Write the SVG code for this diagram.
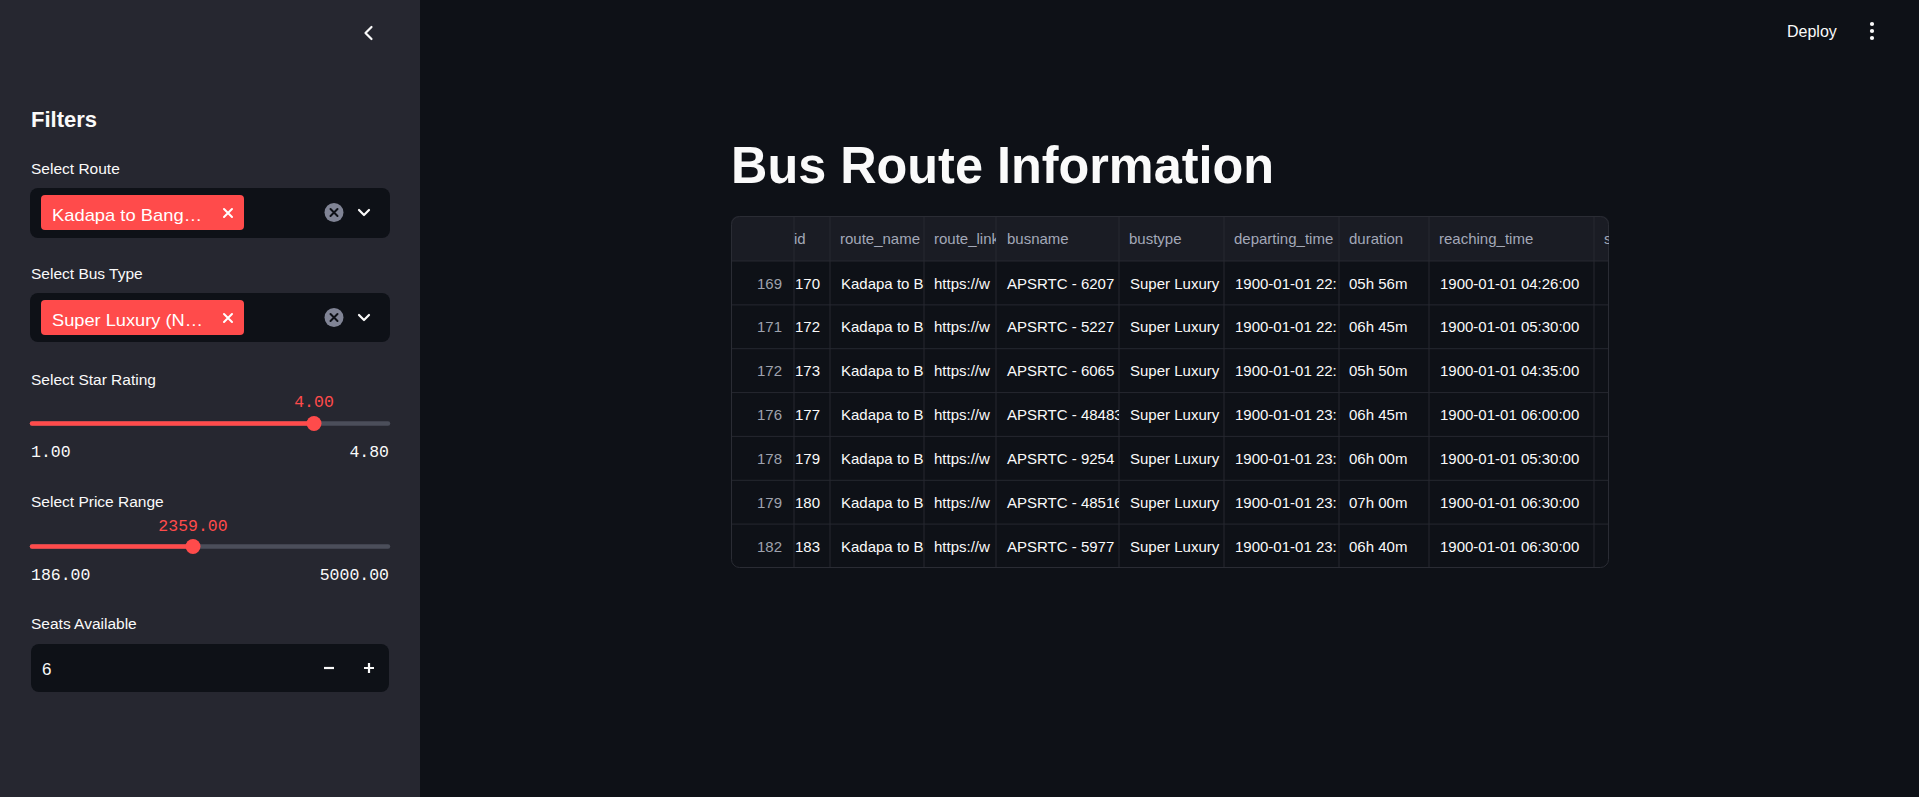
<svg xmlns="http://www.w3.org/2000/svg" width="1919" height="797" viewBox="0 0 1919 797">
<defs>
<style>
.sans{font-family:"Liberation Sans",Arial,sans-serif}
.mono{font-family:"Liberation Mono","DejaVu Sans Mono",monospace}
.lbl{font-family:"Liberation Sans",Arial,sans-serif;font-size:15.5px;fill:#fafafa}
.th{font-family:"Liberation Sans",Arial,sans-serif;font-size:15px;fill:#a3a8b8}
.td{font-family:"Liberation Sans",Arial,sans-serif;font-size:15px;fill:#fafafa}
.ix{font-family:"Liberation Sans",Arial,sans-serif;font-size:15px;fill:#9ea2ad;text-anchor:end}
.grid{stroke:#262830;stroke-width:1}
.icon{stroke:#fafafa;stroke-width:2.2;fill:none;stroke-linecap:round;stroke-linejoin:round}
.tagx{stroke:#ffffff;stroke-width:2;stroke-linecap:round}
.redv{font-family:"Liberation Mono","DejaVu Sans Mono",monospace;font-size:16.5px;fill:#ff4b4b;text-anchor:middle}
.minmax{font-family:"Liberation Mono","DejaVu Sans Mono",monospace;font-size:16.5px;fill:#fafafa}
</style>
<clipPath id="cIdx"><rect x="731" y="216" width="63" height="352"/></clipPath>
<clipPath id="cId"><rect x="794" y="216" width="36" height="352"/></clipPath>
<clipPath id="cRn"><rect x="830" y="216" width="94" height="352"/></clipPath>
<clipPath id="cRl"><rect x="924" y="216" width="72" height="352"/></clipPath>
<clipPath id="cBn"><rect x="996" y="216" width="123" height="352"/></clipPath>
<clipPath id="cBt"><rect x="1119" y="216" width="105" height="352"/></clipPath>
<clipPath id="cDt"><rect x="1224" y="216" width="115" height="352"/></clipPath>
<clipPath id="cDu"><rect x="1339" y="216" width="90" height="352"/></clipPath>
<clipPath id="cRt"><rect x="1429" y="216" width="165" height="352"/></clipPath>
<clipPath id="cS"><rect x="1594" y="216" width="15" height="352"/></clipPath>
</defs>

<rect x="0" y="0" width="1919" height="797" fill="#0e1117"/>

<g id="sidebar">
<rect x="0" y="0" width="420" height="797" fill="#262730"/>
<path class="icon" d="M371.5,27 L365.5,33 L371.5,39"/>
<text x="31" y="127" class="sans" font-size="22" font-weight="bold" fill="#fafafa">Filters</text>
</g>

<g id="select-route">
<text x="31" y="174" class="lbl">Select Route</text>
<rect x="30" y="188" width="360" height="50" rx="8" fill="#0e1117"/>
<rect x="41" y="195" width="203" height="35" rx="4" fill="#ff4b4b"/>
<text x="52" y="221" class="sans" font-size="17" fill="#ffffff" textLength="150" lengthAdjust="spacingAndGlyphs">Kadapa to Bang…</text>
<path class="tagx" d="M224,209 L232,217 M232,209 L224,217"/>
<circle cx="334" cy="212.5" r="9.5" fill="#808495"/>
<path d="M330.5,209 L337.5,216 M337.5,209 L330.5,216" stroke="#0e1117" stroke-width="2" stroke-linecap="round"/>
<path class="icon" d="M359,210 L364,215 L369,210"/>
</g>

<g id="select-bus-type">
<text x="31" y="279" class="lbl">Select Bus Type</text>
<rect x="30" y="293" width="360" height="49" rx="8" fill="#0e1117"/>
<rect x="41" y="300" width="203" height="35" rx="4" fill="#ff4b4b"/>
<text x="52" y="326" class="sans" font-size="17" fill="#ffffff" textLength="151" lengthAdjust="spacingAndGlyphs">Super Luxury (N…</text>
<path class="tagx" d="M224,314 L232,322 M232,314 L224,322"/>
<circle cx="334" cy="317.5" r="9.5" fill="#808495"/>
<path d="M330.5,314 L337.5,321 M337.5,314 L330.5,321" stroke="#0e1117" stroke-width="2" stroke-linecap="round"/>
<path class="icon" d="M359,315 L364,320 L369,315"/>
</g>

<g id="star-rating">
<text x="31" y="385" class="lbl">Select Star Rating</text>
<text x="314" y="407" class="redv">4.00</text>
<line x1="32" y1="423.5" x2="388" y2="423.5" stroke="#4b4e5a" stroke-width="4.5" stroke-linecap="round"/>
<line x1="32" y1="423.5" x2="314" y2="423.5" stroke="#ff4b4b" stroke-width="4.5" stroke-linecap="round"/>
<circle cx="314" cy="423.5" r="7.5" fill="#ff4b4b"/>
<text x="31" y="457" class="minmax">1.00</text>
<text x="389" y="457" class="minmax" text-anchor="end">4.80</text>
</g>

<g id="price-range">
<text x="31" y="507" class="lbl">Select Price Range</text>
<text x="193" y="531" class="redv">2359.00</text>
<line x1="32" y1="546.5" x2="388" y2="546.5" stroke="#4b4e5a" stroke-width="4.5" stroke-linecap="round"/>
<line x1="32" y1="546.5" x2="193" y2="546.5" stroke="#ff4b4b" stroke-width="4.5" stroke-linecap="round"/>
<circle cx="193" cy="546.5" r="7.5" fill="#ff4b4b"/>
<text x="31" y="580" class="minmax">186.00</text>
<text x="389" y="580" class="minmax" text-anchor="end">5000.00</text>
</g>

<g id="seats-available">
<text x="31" y="629" class="lbl">Seats Available</text>
<rect x="31" y="644" width="358" height="48" rx="8" fill="#0e1117"/>
<text x="42" y="675" class="sans" font-size="17" fill="#fafafa">6</text>
<line x1="324" y1="668" x2="334" y2="668" stroke="#fafafa" stroke-width="2.2"/>
<path d="M364,668 L374,668 M369,663 L369,673" stroke="#fafafa" stroke-width="2.2"/>
</g>

<g id="toolbar">
<text x="1787" y="37" class="sans" font-size="16" fill="#fafafa">Deploy</text>
<circle cx="1872" cy="24" r="2.1" fill="#fafafa"/>
<circle cx="1872" cy="31" r="2.1" fill="#fafafa"/>
<circle cx="1872" cy="38" r="2.1" fill="#fafafa"/>
</g>

<g id="title">
<text x="731" y="183" class="sans" font-size="52" font-weight="bold" fill="#fafafa" textLength="543" lengthAdjust="spacingAndGlyphs">Bus Route Information</text>
</g>

<g id="table">
<rect x="731" y="216" width="878" height="352" rx="8" fill="#0e1117"/>
<path d="M731,261 L731,224 Q731,216 739,216 L1601,216 Q1609,216 1609,224 L1609,261 Z" fill="#1a1c24"/>
<g class="grid">
<line x1="731" y1="261" x2="1609" y2="261"/>
<line x1="731" y1="304.9" x2="1609" y2="304.9"/>
<line x1="731" y1="348.7" x2="1609" y2="348.7"/>
<line x1="731" y1="392.6" x2="1609" y2="392.6"/>
<line x1="731" y1="436.4" x2="1609" y2="436.4"/>
<line x1="731" y1="480.3" x2="1609" y2="480.3"/>
<line x1="731" y1="524.1" x2="1609" y2="524.1"/>
<line x1="794" y1="216" x2="794" y2="568"/>
<line x1="830" y1="216" x2="830" y2="568"/>
<line x1="924" y1="216" x2="924" y2="568"/>
<line x1="996" y1="216" x2="996" y2="568"/>
<line x1="1119" y1="216" x2="1119" y2="568"/>
<line x1="1224" y1="216" x2="1224" y2="568"/>
<line x1="1339" y1="216" x2="1339" y2="568"/>
<line x1="1429" y1="216" x2="1429" y2="568"/>
<line x1="1594" y1="216" x2="1594" y2="568"/>
</g>
<rect x="731.5" y="216.5" width="877" height="351" rx="8" fill="none" stroke="#2a2c34" stroke-width="1"/>

<g id="header">
<text x="794" y="244" class="th" clip-path="url(#cId)">id</text>
<text x="840" y="244" class="th" clip-path="url(#cRn)">route_name</text>
<text x="934" y="244" class="th" clip-path="url(#cRl)">route_link</text>
<text x="1007" y="244" class="th" clip-path="url(#cBn)">busname</text>
<text x="1129" y="244" class="th" clip-path="url(#cBt)">bustype</text>
<text x="1234" y="244" class="th" clip-path="url(#cDt)">departing_time</text>
<text x="1349" y="244" class="th" clip-path="url(#cDu)">duration</text>
<text x="1439" y="244" class="th" clip-path="url(#cRt)">reaching_time</text>
<text x="1604" y="244" class="th" clip-path="url(#cS)">s</text>
</g>

<g id="col-index">
<text x="782" y="288.5" class="ix">169</text>
<text x="782" y="332.3" class="ix">171</text>
<text x="782" y="376.2" class="ix">172</text>
<text x="782" y="420" class="ix">176</text>
<text x="782" y="463.9" class="ix">178</text>
<text x="782" y="507.7" class="ix">179</text>
<text x="782" y="551.6" class="ix">182</text>
</g>
<g id="col-id" clip-path="url(#cId)">
<text x="795" y="288.5" class="td">170</text>
<text x="795" y="332.3" class="td">172</text>
<text x="795" y="376.2" class="td">173</text>
<text x="795" y="420" class="td">177</text>
<text x="795" y="463.9" class="td">179</text>
<text x="795" y="507.7" class="td">180</text>
<text x="795" y="551.6" class="td">183</text>
</g>
<g id="col-route-name" clip-path="url(#cRn)">
<text x="841" y="288.5" class="td">Kadapa to B</text>
<text x="841" y="332.3" class="td">Kadapa to B</text>
<text x="841" y="376.2" class="td">Kadapa to B</text>
<text x="841" y="420" class="td">Kadapa to B</text>
<text x="841" y="463.9" class="td">Kadapa to B</text>
<text x="841" y="507.7" class="td">Kadapa to B</text>
<text x="841" y="551.6" class="td">Kadapa to B</text>
</g>
<g id="col-route-link" clip-path="url(#cRl)">
<text x="934" y="288.5" class="td">https://w</text>
<text x="934" y="332.3" class="td">https://w</text>
<text x="934" y="376.2" class="td">https://w</text>
<text x="934" y="420" class="td">https://w</text>
<text x="934" y="463.9" class="td">https://w</text>
<text x="934" y="507.7" class="td">https://w</text>
<text x="934" y="551.6" class="td">https://w</text>
</g>
<g id="col-busname" clip-path="url(#cBn)">
<text x="1007" y="288.5" class="td">APSRTC - 6207</text>
<text x="1007" y="332.3" class="td">APSRTC - 5227</text>
<text x="1007" y="376.2" class="td">APSRTC - 6065</text>
<text x="1007" y="420" class="td">APSRTC - 48483</text>
<text x="1007" y="463.9" class="td">APSRTC - 9254</text>
<text x="1007" y="507.7" class="td">APSRTC - 48516</text>
<text x="1007" y="551.6" class="td">APSRTC - 5977</text>
</g>
<g id="col-bustype" clip-path="url(#cBt)">
<text x="1130" y="288.5" class="td">Super Luxury</text>
<text x="1130" y="332.3" class="td">Super Luxury</text>
<text x="1130" y="376.2" class="td">Super Luxury</text>
<text x="1130" y="420" class="td">Super Luxury</text>
<text x="1130" y="463.9" class="td">Super Luxury</text>
<text x="1130" y="507.7" class="td">Super Luxury</text>
<text x="1130" y="551.6" class="td">Super Luxury</text>
</g>
<g id="col-departing" clip-path="url(#cDt)">
<text x="1235" y="288.5" class="td">1900-01-01 22:</text>
<text x="1235" y="332.3" class="td">1900-01-01 22:</text>
<text x="1235" y="376.2" class="td">1900-01-01 22:</text>
<text x="1235" y="420" class="td">1900-01-01 23:</text>
<text x="1235" y="463.9" class="td">1900-01-01 23:</text>
<text x="1235" y="507.7" class="td">1900-01-01 23:</text>
<text x="1235" y="551.6" class="td">1900-01-01 23:</text>
</g>
<g id="col-duration" clip-path="url(#cDu)">
<text x="1349" y="288.5" class="td">05h 56m</text>
<text x="1349" y="332.3" class="td">06h 45m</text>
<text x="1349" y="376.2" class="td">05h 50m</text>
<text x="1349" y="420" class="td">06h 45m</text>
<text x="1349" y="463.9" class="td">06h 00m</text>
<text x="1349" y="507.7" class="td">07h 00m</text>
<text x="1349" y="551.6" class="td">06h 40m</text>
</g>
<g id="col-reaching" clip-path="url(#cRt)">
<text x="1440" y="288.5" class="td">1900-01-01 04:26:00</text>
<text x="1440" y="332.3" class="td">1900-01-01 05:30:00</text>
<text x="1440" y="376.2" class="td">1900-01-01 04:35:00</text>
<text x="1440" y="420" class="td">1900-01-01 06:00:00</text>
<text x="1440" y="463.9" class="td">1900-01-01 05:30:00</text>
<text x="1440" y="507.7" class="td">1900-01-01 06:30:00</text>
<text x="1440" y="551.6" class="td">1900-01-01 06:30:00</text>
</g>
</g>
</svg>
